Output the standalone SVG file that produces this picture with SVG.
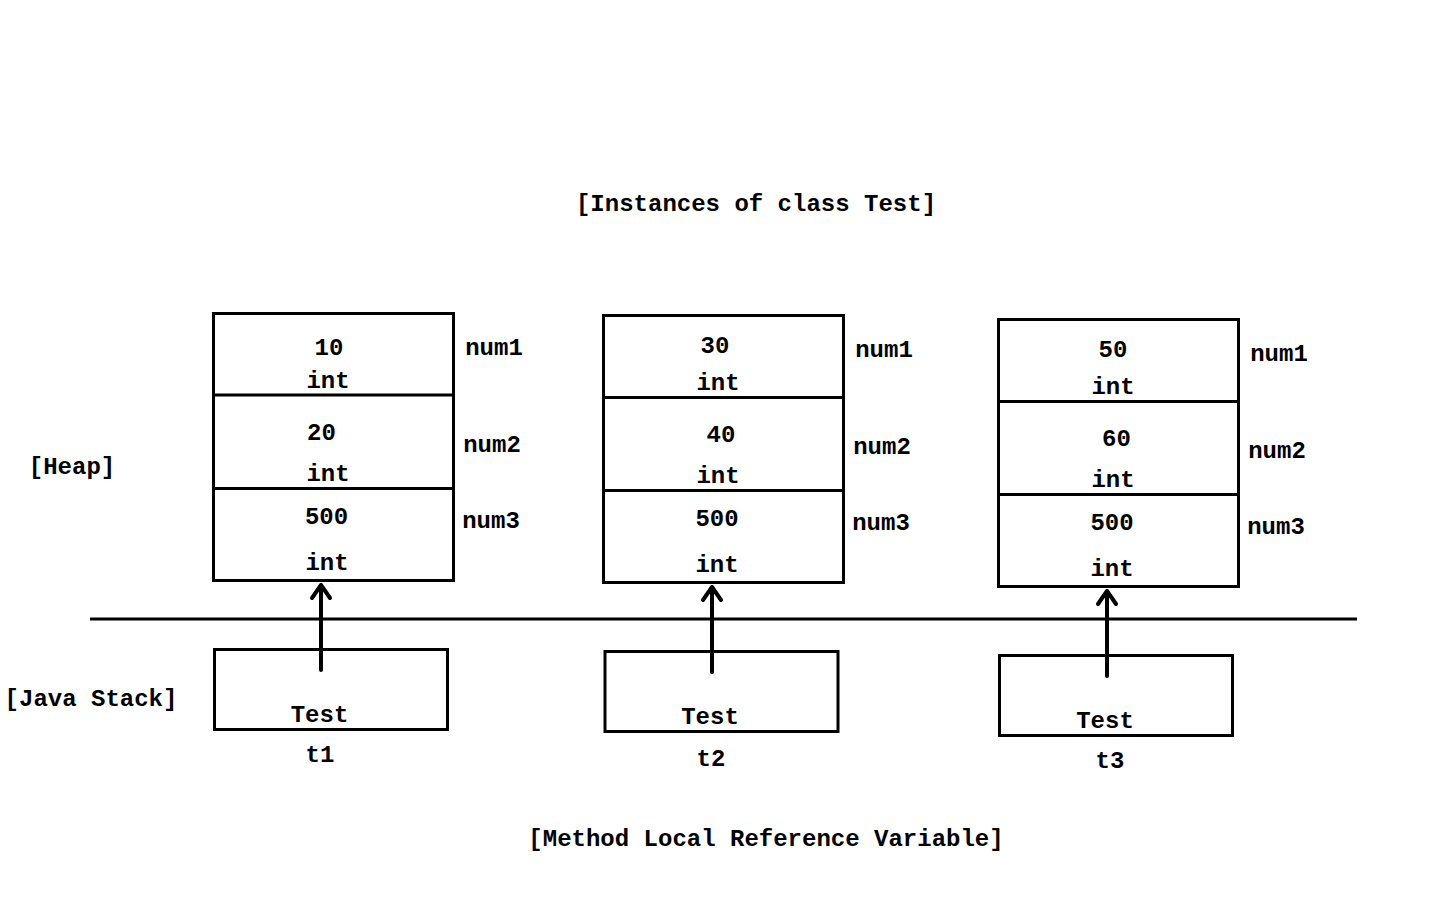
<svg xmlns="http://www.w3.org/2000/svg" width="1440" height="900" viewBox="0 0 1440 900">
<style>
text{font-family:"Liberation Mono","Courier New",monospace;font-weight:bold;font-size:24px;fill:#000;text-anchor:middle}
.box{fill:#fff;stroke:#000;stroke-width:3}
.ln{stroke:#000;stroke-width:3;fill:none}
.arr{stroke:#000;stroke-width:4;fill:none;stroke-linecap:round;stroke-linejoin:round}
</style>
<rect width="1440" height="900" fill="#fff"/>
<text x="756" y="211">[Instances of class Test]</text>
<text x="766" y="846">[Method Local Reference Variable]</text>
<text x="72" y="474">[Heap]</text>
<text x="91" y="706">[Java Stack]</text>
<line class="ln" x1="90" y1="619" x2="1357" y2="619"/>

<g id="heap1">
<rect class="box" x="213.5" y="313.5" width="240" height="267"/>
<line class="ln" x1="213.5" y1="395" x2="453.5" y2="395"/>
<line class="ln" x1="213.5" y1="488.5" x2="453.5" y2="488.5"/>
<text x="329" y="355">10</text><text x="328" y="388">int</text>
<text x="321.5" y="440">20</text><text x="328" y="481">int</text>
<text x="326.5" y="524">500</text><text x="327" y="570">int</text>
<text x="494" y="355">num1</text><text x="492" y="452">num2</text><text x="491" y="528">num3</text>
</g>
<g id="heap2">
<rect class="box" x="603.5" y="315.5" width="240" height="267"/>
<line class="ln" x1="603.5" y1="397.5" x2="843.5" y2="397.5"/>
<line class="ln" x1="603.5" y1="490.5" x2="843.5" y2="490.5"/>
<text x="715" y="353">30</text><text x="718" y="390">int</text>
<text x="721" y="442">40</text><text x="718" y="483">int</text>
<text x="717" y="526">500</text><text x="717" y="572">int</text>
<text x="884" y="357">num1</text><text x="882" y="454">num2</text><text x="881" y="530">num3</text>
</g>
<g id="heap3">
<rect class="box" x="998.5" y="319.5" width="240" height="267"/>
<line class="ln" x1="998.5" y1="401.5" x2="1238.5" y2="401.5"/>
<line class="ln" x1="998.5" y1="494.5" x2="1238.5" y2="494.5"/>
<text x="1113" y="357">50</text><text x="1113" y="394">int</text>
<text x="1116.5" y="446">60</text><text x="1113" y="487">int</text>
<text x="1112" y="530">500</text><text x="1112" y="576">int</text>
<text x="1279" y="361">num1</text><text x="1277" y="458">num2</text><text x="1276" y="534">num3</text>
</g>

<g id="stack1">
<rect class="box" x="214.5" y="649.5" width="233" height="80"/>
<text x="319.5" y="722">Test</text>
<text x="320" y="762">t1</text>
</g>
<g id="stack2">
<rect class="box" x="605" y="651.5" width="233" height="80"/>
<text x="710" y="724">Test</text>
<text x="711" y="766">t2</text>
</g>
<g id="stack3">
<rect class="box" x="999.5" y="655.5" width="233" height="80"/>
<text x="1105" y="728">Test</text>
<text x="1110" y="768">t3</text>
</g>

<g id="connectors">
<path class="arr" d="M321 670 V585 M312 598 L321 585 L330 598"/>
<path class="arr" d="M712 672 V587 M703 600 L712 587 L721 600"/>
<path class="arr" d="M1107 676 V591 M1098 604 L1107 591 L1116 604"/>
</g>
</svg>
